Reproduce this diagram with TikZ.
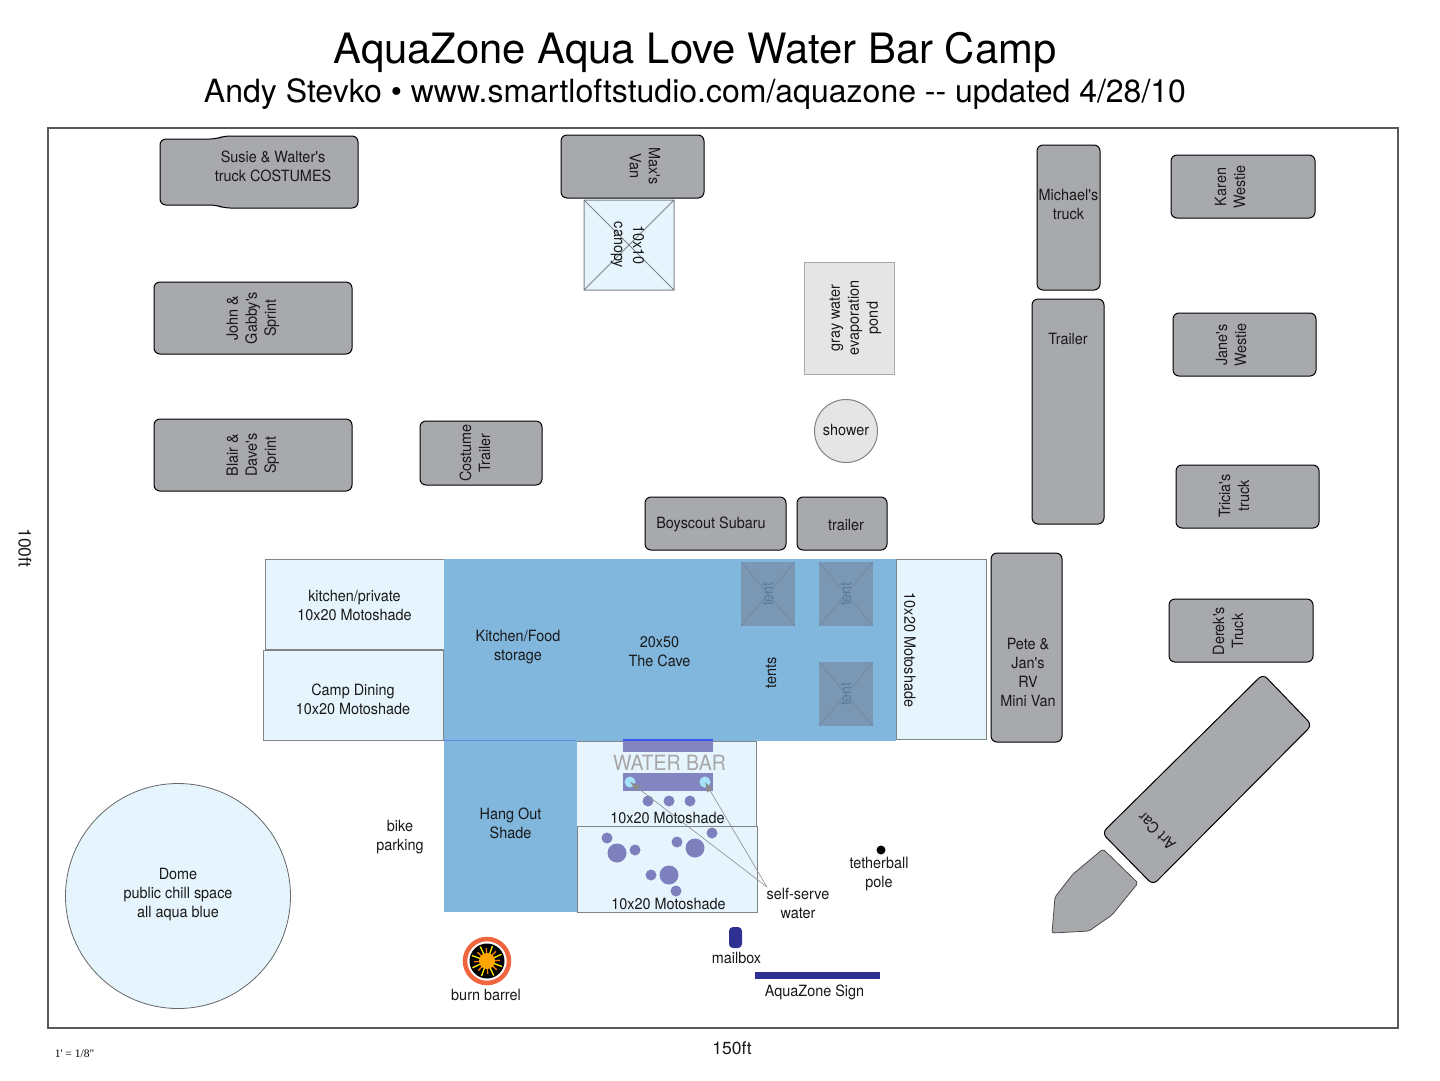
\documentclass[tikz,border=0pt]{standalone}
\usepackage{fontspec}
\setmainfont{TeX Gyre Heros}
\newfontfamily\narrowf{TeX Gyre Heros}[FakeStretch=0.93]
\usetikzlibrary{arrows.meta}
\definecolor{vgray}{HTML}{A7A9AC}
\definecolor{pale}{HTML}{E6F5FD}
\definecolor{midblue}{HTML}{81B6DD}
\definecolor{tentc}{HTML}{7A97B4}
\definecolor{tenttxt}{HTML}{5C7C9C}
\definecolor{purp}{HTML}{8385C0}
\definecolor{dot}{HTML}{7D80BD}
\definecolor{navy}{HTML}{2E3192}
\definecolor{edgeg}{HTML}{7F8487}
\tikzset{
 vehicle/.style={draw=black,fill=vgray,line width=1pt,rounded corners=6pt,inner sep=0pt,outer sep=0pt},
 shade/.style={draw=edgeg,fill=pale,line width=1pt,inner sep=0pt},
 tx/.style={font=\narrowf\fontsize{15.5}{19}\selectfont,align=center,inner sep=0pt,text=black!90},
 dimtx/.style={font=\fontsize{17.5}{20}\selectfont,inner sep=0pt,text=black!90},
 tenttext/.style={font=\narrowf\fontsize{15.5}{19}\selectfont,text=tenttxt,inner sep=0pt,rotate=90},
 dotS/.style={circle,fill=dot,minimum size=11pt,inner sep=0pt},
 dotL/.style={circle,fill=dot,minimum size=19pt,inner sep=0pt},
 tap/.style={circle,fill=cyan!35,minimum size=11pt,inner sep=0pt},
 lead/.style={draw=black!45,line width=.6pt,-{Latex[length=10pt,width=7pt]}},
 ray/.style={line width=1.3pt},
}
\newcommand{\boxat}[6]{% name, style, x1,y1,x2,y2
 \draw[#2] (#3,#4) rectangle (#5,#6);
 \coordinate (#1) at ({(#3+#5)/2},{(#4+#6)/2});}
\newcommand{\tentat}[3]{%
 \fill[tentc] (#1,#2) rectangle ++(54,#3);
 \draw[black!12!tentc,line width=.5pt] (#1,#2) -- ++(54,#3) (#1+54,#2) -- ++(-54,#3);
 \node[tenttext] at (#1+27,#2+#3/2) {tent};}
\begin{document}
\begin{tikzpicture}[x=1pt,y=-1pt]
\useasboundingbox (0,0) rectangle (1440,1080);
\fill[white] (0,0) rectangle (1440,1080);
\node[font=\fontsize{41.8}{46}\selectfont,inner sep=0pt] (title) at (695,52.5) {AquaZone Aqua Love Water Bar Camp};
\node[font=\fontsize{32}{36}\selectfont,inner sep=0pt] (subtitle) at (695,94) {Andy Stevko • www.smartloftstudio.com/aquazone -{}- updated 4/28/10};
\draw[draw=black!65,line width=1.2pt] (48,128) rectangle (1398,1028);
\node[dimtx,rotate=-90] (h) at (25,548) {100ft};
\node[dimtx] (w) at (732,1048) {150ft};
\node[font=\fontsize{11.5}{12}\selectfont,inner sep=0pt] (scale) at (74.5,1053.5) {\fontspec{Liberation Serif}1' = 1/8"};
% truck
\draw[vehicle] (160,139) -- (216,139) -- (224,136) -- (358,136) -- (358,208) -- (224,208) -- (216,205) -- (160,205) -- cycle;
\node[tx] (susie) at (273,166.5) {Susie \& Walter's\\truck COSTUMES};
\boxat{van}{vehicle}{561}{135}{704}{198}
\node[tx,rotate=-90] at (645,166) {Max's\\Van};
\draw[shade] (584,200) rectangle (674,290) (584,200) -- (674,290) (674,200) -- (584,290);
\node[tx,rotate=-90] (canopy) at (627.5,245) {10x10\\canopy};
\boxat{mich}{vehicle}{1037}{145}{1100}{290}
\node[tx] at (1068.5,204) {Michael's\\truck};
\boxat{trl}{vehicle}{1032}{299}{1104}{524}
\node[tx] at (1068,338.5) {Trailer};
\boxat{karen}{vehicle}{1171}{155}{1315}{218}
\node[tx,rotate=90] at (1230,187) {Karen\\Westie};
\boxat{jane}{vehicle}{1173}{313}{1316}{376}
\node[tx,rotate=90] at (1231,345) {Jane's\\Westie};
\boxat{tricia}{vehicle}{1176}{465}{1319}{528}
\node[tx,rotate=90] at (1234,496) {Tricia's\\truck};
\boxat{derek}{vehicle}{1169}{599}{1313}{662}
\node[tx,rotate=90] at (1228,631) {Derek's\\Truck};
\boxat{john}{vehicle}{154}{282}{352}{354}
\node[tx,rotate=90] at (john) {John \&\\Gabby's\\Sprint};
\boxat{blair}{vehicle}{154}{419}{352}{491}
\node[tx,rotate=90] at (blair) {Blair \&\\Dave's\\Sprint};
\boxat{cost}{vehicle}{420}{421}{542}{485}
\node[tx,rotate=90] at (475,453) {Costume\\Trailer};
\boxat{pond}{draw=edgeg!70,fill=black!10,line width=1pt}{804}{262}{894}{374}
\node[tx,rotate=90] at (855.5,318) {gray water\\evaporation\\pond};
\node[circle,draw=edgeg,fill=black!10,line width=1pt,minimum size=63pt,inner sep=0pt] (shower) at (846,431) {};
\node[tx] at (846,430) {shower};
\boxat{bsub}{vehicle}{645}{497}{786}{550}
\node[tx] at (711,524.5) {Boyscout Subaru};
\boxat{tr2}{vehicle}{797}{497}{887}{550}
\node[tx] at (846,524.5) {trailer};
% shade structures
\boxat{kit}{shade}{265}{559}{444}{649}
\node[tx] at (354.5,605.5) {kitchen/private\\10x20 Motoshade};
\boxat{din}{shade}{263}{650}{443}{740}
\node[tx] at (353,699) {Camp Dining\\10x20 Motoshade};
\boxat{ms}{shade}{896}{559}{986}{739}
\node[tx,rotate=-90] at (910,650) {10x20 Motoshade};
\boxat{wb}{shade}{576}{741}{756}{826}
\boxat{ms2}{shade}{577}{826}{757}{912}
\fill[midblue] (444,559) rectangle (896,741);
\fill[midblue] (444,741) rectangle (577,912);
\draw[draw=blue!25!midblue,line width=1pt] (444,740.5) -- (576,740.5);
\node[tx] at (518,647.5) {Kitchen/Food\\storage};
\node[tx] at (659.5,651.5) {20x50\\The Cave};
\node[tx,rotate=90] at (771,673) {tents};
\node[tx] at (510.5,823) {Hang Out\\Shade};
\tentat{741}{562}{64}
\tentat{819}{562}{64}
\tentat{819}{662}{64}
\boxat{pete}{vehicle}{991}{553}{1062}{742}
\node[tx] at (1028,672.5) {Pete \&\\Jan's\\RV\\Mini Van};
% water bar
\fill[purp] (623,741) rectangle (713,752);
\fill[blue!55!midblue] (623,738.5) rectangle (713,741);
\fill[purp] (623,773) rectangle (713,791);
\node[inner sep=0pt,font=\narrowf\fontsize{21}{24}\selectfont,text=black!35] (wbt) at (669.5,762.5) {WATER BAR};
\node[tap] (tapA) at (630,782) {};
\node[tap] (tapB) at (705,782) {};
\node[dotS] (d1) at (648,801) {};
\node[dotS] (d2) at (669,801) {};
\node[dotS] (d3) at (690,801) {};
\node[dotS] (d4) at (607,838) {};
\node[dotL] (d5) at (617,853) {};
\node[dotS] (d6) at (635,850) {};
\node[dotS] (d7) at (677,842) {};
\node[dotL] (d8) at (695,848) {};
\node[dotS] (d9) at (712,833) {};
\node[dotS] (d10) at (651,875) {};
\node[dotL] (d11) at (669,875) {};
\node[dotS] (d12) at (676,891) {};
\node[tx] at (667.5,818) {10x20 Motoshade};
\node[tx] at (668.5,904) {10x20 Motoshade};
\node[tx] (self) at (798,903) {self-serve\\water};
\coordinate (selftip) at (767,887);
\draw[lead] (selftip) -- (tapA.center);
\draw[lead] (selftip) -- (tapB.center);
\node[tx] at (400,837.5) {bike\\parking};
\node[circle,fill=black,minimum size=9pt,inner sep=0pt] (ball) at (881,850) {};
\node[tx] at (879,874) {tetherball\\pole};
% dome
\node[circle,draw=black!60,fill=pale,line width=.8pt,minimum size=225pt,inner sep=0pt] (dome) at (178,896) {};
\node[tx] at (178,894.5) {Dome\\public chill space\\all aqua blue};
% burn barrel
\node[circle,draw={rgb,255:red,241;green,101;blue,62},line width=4.5pt,fill=white,minimum size=44pt,inner sep=0pt] (barrel) at (487,961) {};
\fill[black] (487,961) circle (17.5);
\foreach \a in {0,45,...,315}{\draw[ray,yellow] (barrel.center) -- ++(\a+20:16);}
\foreach \a in {0,45,...,315}{\draw[ray,orange] (barrel.center) -- ++(\a+42:13);}
\fill[orange!70!yellow] (487,961) circle (8);
\node[tx] at (486,995) {burn barrel};
% mailbox and sign
\fill[navy,rounded corners=4pt] (729,927) rectangle (742,948);
\node[tx] at (736.5,958) {mailbox};
\fill[navy] (755,972) rectangle (880,979);
\node[tx] at (814.5,992) {AquaZone Sign};
% art car
\draw[vehicle] (1263,674) -- (1312,725) -- (1153,885) -- (1102,833) -- cycle;
\node[tx,rotate=135] at (1156.5,831.5) {Art Car};
\draw[draw=black!70,fill=vgray,line width=.8pt] (1103,849) [rounded corners=2pt] -- (1138,883) -- (1112,915) -- (1089,931) -- (1052,933) -- (1055,897) -- (1073,874) -- cycle;
\end{tikzpicture}
\end{document}
